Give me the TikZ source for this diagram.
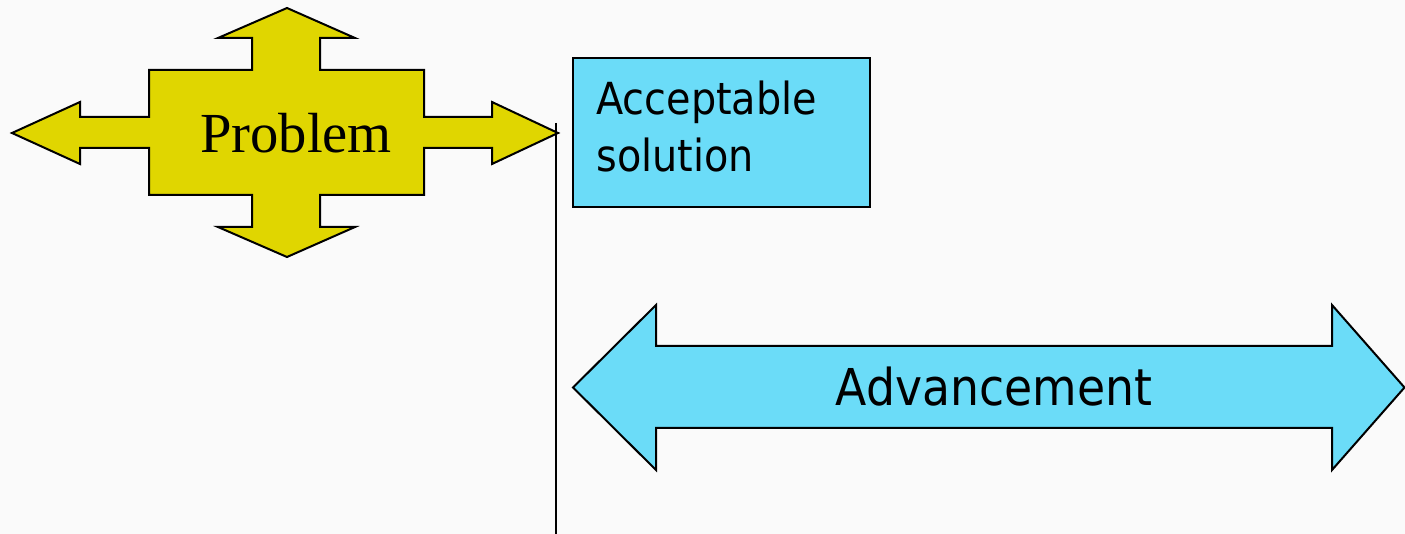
\documentclass[tikz,border=0pt]{standalone}
\usepackage{fontspec}
\setmainfont{Liberation Serif}
\newfontfamily\labelfont{DejaVu Sans Condensed}
\usepackage{tikz}

\definecolor{crossyellow}{RGB}{224,214,0}
\definecolor{skyfill}{RGB}{107,220,248}
\definecolor{paper}{RGB}{250,250,250}

\begin{document}
\begin{tikzpicture}[x=5pt,y=5pt]
				\tikzstyle{every node}+=[inner sep=0pt]
				\tikzstyle{outline}=[draw=black, line width=1pt, line join=miter]
				\fill [paper] (0,0) rectangle (140.5,-53.4);
				\useasboundingbox (0,0) rectangle (140.5,-53.4);
				% four-way arrow
				\draw [outline, fill=crossyellow] (28.7,-0.8) -- (35.5,-3.8) -- (32.0,-3.8) -- (32.0,-7.0) -- (42.4,-7.0) -- (42.4,-11.7) -- (49.2,-11.7) -- (49.2,-10.2) -- (55.8,-13.3) -- (49.2,-16.4) -- (49.2,-14.8) -- (42.4,-14.8) -- (42.4,-19.5) -- (32.0,-19.5) -- (32.0,-22.7) -- (35.5,-22.7) -- (28.7,-25.7) -- (21.8,-22.7) -- (25.2,-22.7) -- (25.2,-19.5) -- (14.9,-19.5) -- (14.9,-14.8) -- (8.0,-14.8) -- (8.0,-16.4) -- (1.2,-13.3) -- (8.0,-10.2) -- (8.0,-11.7) -- (14.9,-11.7) -- (14.9,-7.0) -- (25.2,-7.0) -- (25.2,-3.8) -- (21.8,-3.8) -- cycle;
				\node (problem) at (29.6,-13.3) {\fontsize{28.3}{34}\selectfont Problem};
				% the post
				\coordinate (post top) at (55.6,-12.3);
				\coordinate (post foot) at (55.6,-53.4);
				\draw [black, line width=1pt] (post top) -- (post foot);
				% solution box
				\node [outline, fill=skyfill, anchor=north west, minimum width=148.5pt, minimum height=74.5pt] (solbox) at (57.2,-5.7) {};
				\node [anchor=north west, align=left, xshift=12pt, yshift=-12pt, font=\labelfont\fontsize{22.1}{28.5}\selectfont] (solution) at (solbox.north west) {Acceptable\\solution};
				% two-way arrow
				\draw [outline, fill=skyfill] (57.3,-38.75) -- (65.6,-30.5) -- (65.6,-34.6) -- (133.2,-34.6) -- (133.2,-30.5) -- (140.45,-38.75) -- (133.2,-47.0) -- (133.2,-42.8) -- (65.6,-42.8) -- (65.6,-47.0) -- cycle;
				\node (advance) at (99.4,-38.7) {\labelfont\fontsize{25.4}{30}\selectfont Advancement};
			\end{tikzpicture}
\end{document}
